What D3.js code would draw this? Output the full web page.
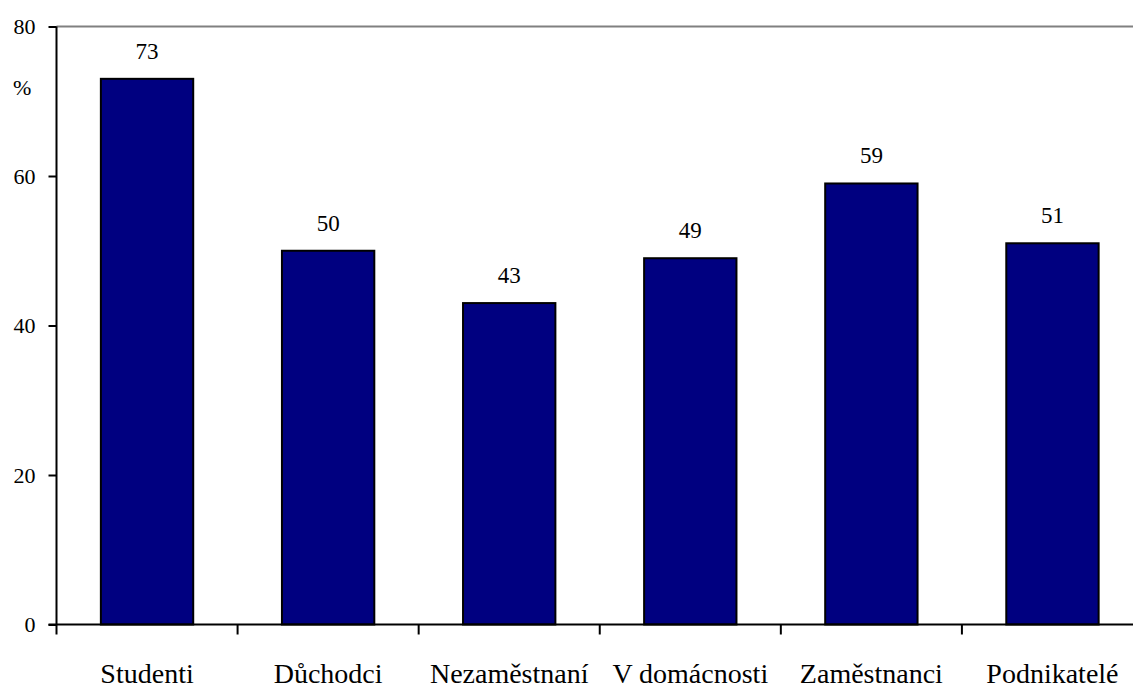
<!DOCTYPE html>
<html><head><meta charset="utf-8">
<script src="https://cdn.jsdelivr.net/npm/d3@7"></script>
<style>body{margin:0;background:#fff}svg{display:block}</style>
</head><body>
<svg id="c" width="1133" height="688"></svg>
<script>
const categories = ["Studenti","Důchodci","Nezaměstnaní","V domácnosti","Zaměstnanci","Podnikatelé"];
const values = [73,50,43,49,59,51];
const yTicks = [0,20,40,60,80];

const FONT = "'Liberation Serif', 'Times New Roman', Times, 'DejaVu Serif', serif";
const svg = d3.select("#c");
const L = 56.5, R = 1143, T = 26.5, B = 624.5;
const x = d3.scaleBand().domain(categories).range([L, R]).paddingInner(0.49).paddingOuter(0.245);
const y = d3.scaleLinear().domain([0,80]).range([B, T]);

function txt(sel, size){ return sel.style("font-family",FONT).style("font-size",size+"px").style("fill","#000"); }

svg.append("line").attr("x1",L).attr("x2",1133).attr("y1",T).attr("y2",T).attr("stroke","#808080").attr("stroke-width",2);

svg.selectAll("rect.bar").data(values).join("rect").attr("class","bar")
  .attr("x",(d,i)=>x(categories[i])).attr("width",x.bandwidth())
  .attr("y",d=>y(d)).attr("height",d=>B-y(d))
  .attr("fill","#000080").attr("stroke","#000").attr("stroke-width",2);

txt(svg.selectAll("text.val").data(values).join("text").attr("class","val")
  .attr("x",(d,i)=>x(categories[i])+x.bandwidth()/2).attr("y",d=>y(d)-20)
  .attr("text-anchor","middle").text(d=>d), 23);

const ya = svg.append("g").attr("transform",`translate(${L},0)`)
  .call(d3.axisLeft(y).tickValues(yTicks).tickSize(8).tickPadding(13));
ya.select(".domain").attr("stroke","#000").attr("stroke-width",2).attr("d",`M0,${T}V${B}`);
ya.selectAll(".tick line").attr("stroke","#000").attr("stroke-width",2);
txt(ya.selectAll(".tick text"), 22);

const step = (R-L)/categories.length;
svg.append("line").attr("x1",L-8).attr("x2",1133).attr("y1",B).attr("y2",B).attr("stroke","#000").attr("stroke-width",2);
svg.selectAll("line.xt").data(d3.range(categories.length+1)).join("line").attr("class","xt")
  .attr("x1",i=>L+i*step).attr("x2",i=>L+i*step).attr("y1",B).attr("y2",B+10)
  .attr("stroke","#000").attr("stroke-width",2);
txt(svg.selectAll("text.cat").data(categories).join("text").attr("class","cat")
  .attr("x",d=>x(d)+x.bandwidth()/2).attr("y",683)
  .attr("text-anchor","middle").text(d=>d), 28);

txt(svg.append("text").attr("x",13).attr("y",95).text("%"), 22);
</script>
</body></html>
